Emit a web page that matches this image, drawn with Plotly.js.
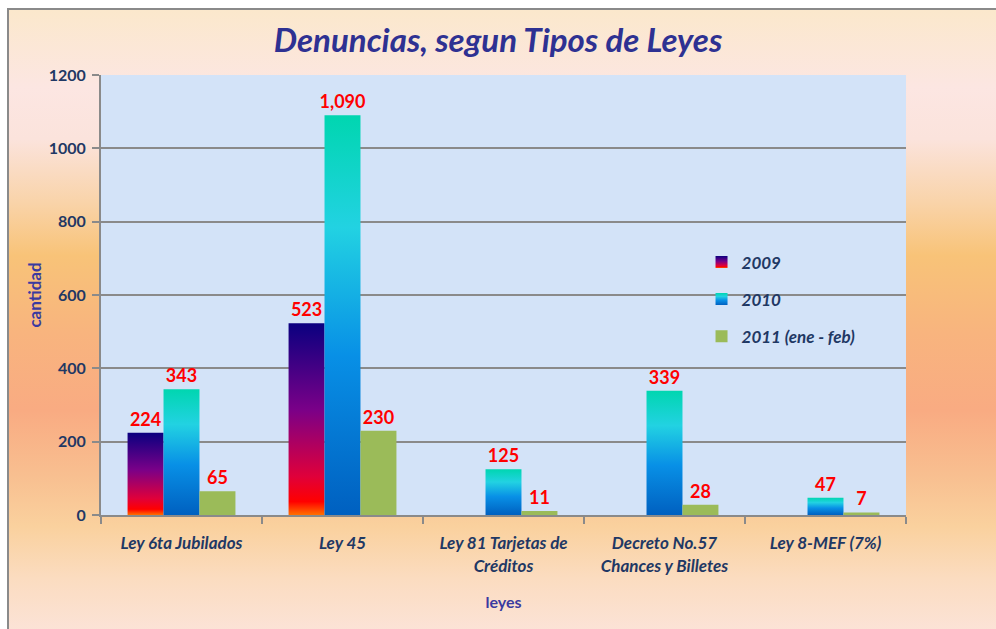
<!DOCTYPE html>
<html>
<head>
<meta charset="utf-8">
<script src="https://cdn.plot.ly/plotly-3.0.1.min.js"></script>
<style>
html,body{margin:0;padding:0;width:996px;height:629px;overflow:hidden;background:#fff;}
#bg{position:absolute;left:7px;top:8px;width:1010px;height:650px;box-sizing:border-box;border:2px solid #8a8a8a;
background:linear-gradient(to bottom,#fbe8cc 0%,#fce6e2 12%,#fbe3dc 20%,#f9d3a8 30%,#f8c378 38%,#f8b47e 50%,#f9ab82 62%,#f8bf90 72%,#fad19e 80%,#fbdcc0 88%,#fce6e2 100%);}
#chart{position:absolute;left:0;top:0;width:996px;height:629px;}
</style>
</head>
<body>
<div id="bg"></div>
<div id="chart"></div>
<script>
const categories = ["Ley 6ta Jubilados", "Ley 45", "Ley 81 Tarjetas de<br>Créditos", "Decreto No.57<br>Chances y Billetes", "Ley 8-MEF (7%)"];
const seriesNames = ["2009", "2010", "2011 (ene - feb)"];
const values2009 = [224, 523, null, null, null];
const values2010 = [343, 1090, 125, 339, 47];
const values2011 = [65, 230, 11, 28, 7];
const yTicks = [0, 200, 400, 600, 800, 1000, 1200];

const navy = "#1f3864";
const FONT = "Lato, 'Open Sans', sans-serif";
const labelFont = {family: FONT, size: 18, color: "#ff0000", weight: 700};

function barTrace(name, vals, color, group) {
  return {
    type: "bar", name: name, x: categories, y: vals,
    marker: {color: color},
    texttemplate: "%{y:,}", textposition: "outside", textfont: labelFont,
    constraintext: "none", cliponaxis: false, legendgroup: group, hoverinfo: "none"
  };
}

const data = [
  barTrace(seriesNames[0], values2009, "#7a0a80", "a"),
  barTrace(seriesNames[1], values2010, "#18a8e0", "b"),
  barTrace(seriesNames[2], values2011, "#9bbb59", "c")
];

const layout = {
  width: 996, height: 629,
  margin: {l: 101, r: 90, t: 75, b: 114, pad: 0},
  paper_bgcolor: "rgba(0,0,0,0)",
  plot_bgcolor: "#d3e3f8",
  barmode: "group", bargap: 0.33, bargroupgap: 0,
  title: {text: "Denuncias, segun Tipos de Leyes", x: 0.5, xanchor: "center", y: 0.935, yanchor: "middle",
    font: {family: FONT, size: 33, color: "#2e3192", weight: 700, style: "italic"}},
  xaxis: {
    tickson: "boundaries", ticks: "outside", ticklen: 7, tickwidth: 2, tickcolor: "#8a8a8a",
    showline: true, linecolor: "#8a8a8a", linewidth: 2, ticklabelstandoff: 12,
    tickfont: {family: FONT, size: 17, color: navy, weight: 700, style: "italic"},
    title: {text: "leyes", standoff: 22, font: {family: FONT, size: 16, color: "#3a3aa0", weight: 700}}
  },
  yaxis: {
    range: [0, 1200], tickvals: yTicks, ticktext: yTicks.map(String),
    ticks: "outside", ticklen: 7, tickwidth: 2, tickcolor: "#8a8a8a",
    showline: true, linecolor: "#8a8a8a", linewidth: 2, ticklabelstandoff: 3,
    showgrid: true, gridcolor: "#8a8a8a", gridwidth: 2, zeroline: false,
    tickfont: {family: FONT, size: 16, color: navy, weight: 700},
    title: {text: "cantidad", standoff: 3, font: {family: FONT, size: 17, color: "#3a3aa0", weight: 700}}
  },
  legend: {x: 0.746, y: 0.615, xanchor: "left", yanchor: "top", bgcolor: "rgba(0,0,0,0)",
    tracegroupgap: 12, itemwidth: 30,
    font: {family: FONT, size: 17, color: navy, weight: 700, style: "italic"}},
  showlegend: true
};

function addGradients() {
  const svg = document.querySelector("#chart .main-svg");
  if (!svg) return;
  let defs = svg.querySelector("defs");
  const ns = "http://www.w3.org/2000/svg";
  if (!defs) { defs = document.createElementNS(ns, "defs"); svg.insertBefore(defs, svg.firstChild); }
  const grads = {
    g2009: [[0, "#0a0080"], [0.45, "#7a0088"], [0.8, "#e0003a"], [0.93, "#ff0000"], [1, "#ff7000"]],
    g2010: [[0, "#00d6b0"], [0.28, "#22d2e2"], [0.6, "#0890e6"], [1, "#0060c0"]]
  };
  Object.keys(grads).forEach(id => {
    const lg = document.createElementNS(ns, "linearGradient");
    lg.setAttribute("id", id); lg.setAttribute("x1", "0"); lg.setAttribute("y1", "0");
    lg.setAttribute("x2", "0"); lg.setAttribute("y2", "1");
    grads[id].forEach(s => {
      const st = document.createElementNS(ns, "stop");
      st.setAttribute("offset", s[0]); st.setAttribute("stop-color", s[1]);
      lg.appendChild(st);
    });
    defs.appendChild(lg);
  });
  const traces = document.querySelectorAll("#chart .barlayer .trace");
  const ids = ["g2009", "g2010"];
  traces.forEach((t, i) => {
    if (i < 2) t.querySelectorAll(".point path").forEach(p => { p.style.fill = "url(#" + ids[i] + ")"; });
  });
  const legs = document.querySelectorAll("#chart .legend .traces");
  legs.forEach((t, i) => {
    if (i < 2) t.querySelectorAll(".legendpoints path").forEach(p => { p.style.fill = "url(#" + ids[i] + ")"; });
  });
}

Plotly.newPlot("chart", data, layout, {displayModeBar: false, staticPlot: true}).then(addGradients);
</script>
</body>
</html>
